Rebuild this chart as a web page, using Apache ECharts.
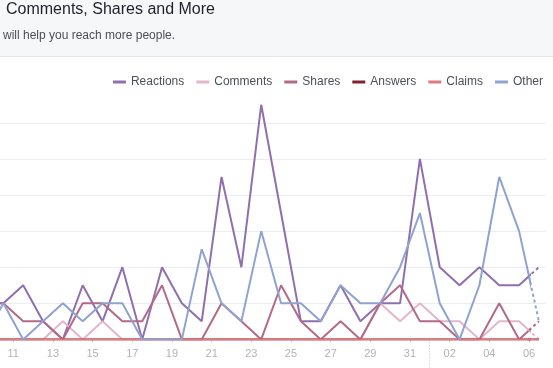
<!DOCTYPE html>
<html><head><meta charset="utf-8">
<script src="https://cdn.jsdelivr.net/npm/echarts@6/dist/echarts.min.js"></script>
<style>html,body{margin:0;padding:0;background:#fff}#c{width:553px;height:368px}</style>
</head><body><div id="c"></div>
<script>
// Days (one point per day), Jan 09 .. Feb 06
const dates = ['01-09','01-10','01-11','01-12','01-13','01-14','01-15','01-16','01-17','01-18',
  '01-19','01-20','01-21','01-22','01-23','01-24','01-25','01-26','01-27','01-28','01-29','01-30','01-31',
  '02-01','02-02','02-03','02-04','02-05','02-06'];
// tick labels at day starts, every 2 days from Jan 09
const tickLabels = ['09','11','13','15','17','19','21','23','25','27','29','31','02','04','06'];
const seriesNames = ['Reactions','Comments','Shares','Answers','Claims','Other'];
const reactions = [2, 2,3,1,0,3,1,4,0,4,2, 1,9,4,13,7,1,1,3,1,2, 2,10,4,3,4,3,3,4];
const comments  = [0, 0,0,0,1,0,1,0,0,0,0, 0,0,0,0,0,0,0,0,0,2, 1,2,1,1,0,1,1,0];
const shares    = [2, 2,1,1,0,2,2,1,1,3,0, 0,2,1,0,3,1,0,1,0,2, 3,1,1,0,0,2,0,1];
const answers   = [0, 0,0,0,0,0,0,0,0,0,0, 0,0,0,0,0,0,0,0,0,0, 0,0,0,0,0,0,0,0];
const claims    = [0, 0,0,0,0,0,0,0,0,0,0, 0,0,0,0,0,0,0,0,0,0, 0,0,0,0,0,0,0,0];
const other     = [0, 2,0,1,2,1,2,2,0,0,0, 5,2,1,6,2,2,1,3,2,2, 4,7,2,0,3,9,6,1];
const colors = ['#8f6fae','#e3b6ca','#b26a89','#7e2331','#df7b7e','#8fa3d1'];
const values = [reactions, comments, shares, answers, claims, other];

// axis position: days since Jan 11 start; a day's point sits at its middle
function dayPos(s){
  const [m,d] = s.split('-').map(Number);
  return (Date.UTC(2021, m-1, d) - Date.UTC(2021, 0, 11)) / 864e5 + 0.5;
}
const font = 'Arial, "Liberation Sans", Helvetica, sans-serif';
const series = [];
seriesNames.forEach((n,i)=>{
  const pts = dates.map((d,j)=>[dayPos(d), values[i][j]]);
  series.push({type:'line', name:n, xAxisIndex:0, yAxisIndex:0, data:pts, symbol:'none',
    clip:true, color:colors[i], lineStyle:{width:2, color:colors[i]}, emphasis:{disabled:true}});
});
seriesNames.forEach((n,i)=>{
  const pts = dates.map((d,j)=>[dayPos(d), values[i][j]]);
  const dashed = !(n==='Claims' || n==='Answers');
  series.push({type:'line', name:n, xAxisIndex:1, yAxisIndex:1, data:pts, symbol:'none',
    clip:true, color:colors[i], lineStyle:{width:2, color:colors[i], type: dashed ? [3,3] : 'solid'},
    emphasis:{disabled:true}});
});

const chart = echarts.init(document.getElementById('c'), null, {renderer:'canvas'});
const yBase = {type:'value', min:0, max:14, interval:2, axisLabel:{show:false}, axisLine:{show:false},
  axisTick:{show:false}, splitLine:{show:true, showMaxLine:false, showMinLine:false, lineStyle:{color:'#ebedf0', width:1}}};
chart.setOption({
  animation:false,
  backgroundColor:'#fff',
  textStyle:{fontFamily:font},
  graphic:[
    {id:'hdr', type:'rect', shape:{x:0,y:0,width:553,height:56}, style:{fill:'#f6f7f9'}, z:-10},
    {id:'hdrline', type:'line', shape:{x1:0,y1:56.5,x2:553,y2:56.5}, style:{stroke:'#e4e6ea', lineWidth:1}, z:-9}
  ],
  title:[
    {text:'Comments, Shares and More', left:6, top:2, padding:0,
     textStyle:{fontSize:16, fontWeight:'normal', color:'#1d2129', fontFamily:font}},
    {text:'will help you reach more people.', left:3, top:30, padding:0,
     textStyle:{fontSize:12, fontWeight:'normal', color:'#4b4f56', fontFamily:font}}
  ],
  legend:{data:seriesNames, right:5, top:71, itemWidth:13, itemHeight:3, itemGap:12, icon:'rect',
    textStyle:{fontSize:12, color:'#4b4f56', fontFamily:font}},
  grid:[
    {left:-26.4, right:24, top:86.7, bottom:28.6, containLabel:false, outerBoundsMode:'none'},
    {left:529, right:7, top:86.7, bottom:28.6, containLabel:false, outerBoundsMode:'none'}
  ],
  xAxis:[
    {type:'value', gridIndex:0, min:-2, max:26, interval:2,
     axisLine:{show:true, lineStyle:{color:'#dddfe2'}},
     axisTick:{show:true, length:3, lineStyle:{color:'#ccd0d5'}},
     splitLine:{show:false},
     axisLabel:{margin:9, fontSize:11, color:'#b0b3b8', fontFamily:font,
       formatter:v=>{const i=Math.round((v+2)/2); return (Math.abs((v+2)/2-i)<1e-6 && tickLabels[i]) ? tickLabels[i] : '';}}},
    {type:'value', gridIndex:1, min:26, max:26.86, show:false}
  ],
  yAxis:[Object.assign({gridIndex:0}, yBase), Object.assign({gridIndex:1}, yBase)],
  series
});
// month boundary marker (Feb 01 start) below the axis
const mx = chart.convertToPixel({xAxisIndex:0}, dayPos('02-01') - 0.5);
const my = chart.convertToPixel({yAxisIndex:0}, 0);
chart.setOption({graphic:[{id:'month', type:'line', shape:{x1:Math.round(mx)-0.5, y1:my, x2:Math.round(mx)-0.5, y2:368},
  style:{stroke:'#bec3c9', lineWidth:1, lineDash:[1,2]}}]});
</script></body></html>
